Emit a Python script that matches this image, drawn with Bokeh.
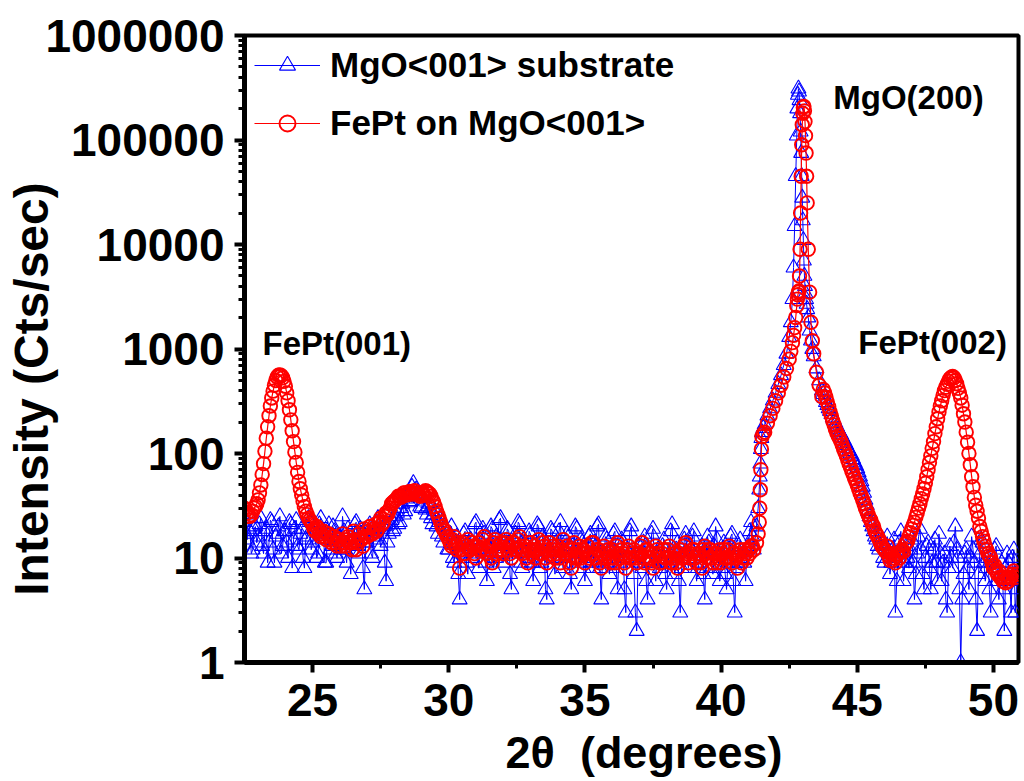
import numpy as np
from bokeh.plotting import figure
from bokeh.models import (Range1d, FixedTicker, PrintfTickFormatter, Label,
                          Legend, LegendItem, ColumnDataSource)
from bokeh.embed import file_html
from bokeh.resources import INLINE

# ---------------- data ----------------
# scan grid: 0.05 deg step below and above the MgO(200) peak, finer around it
two_theta_low = np.round(np.linspace(22.5, 41.15, 374), 2)
two_theta_peak = [41.2, 41.3, 41.36, 41.40, 41.42, 41.44, 41.46, 41.48, 41.5, 41.55,
                  41.6, 41.7, 41.8, 41.9, 42.0, 42.1, 42.2, 42.3, 42.4, 42.5,
                  42.56, 42.62, 42.66, 42.7, 42.74, 42.78, 42.8, 42.82, 42.84, 42.86,
                  42.88, 42.9, 42.92, 42.94, 42.96, 42.98, 43.0, 43.02, 43.04, 43.06,
                  43.08, 43.1, 43.12, 43.14, 43.16, 43.2, 43.25, 43.3, 43.35, 43.4,
                  43.5, 43.6, 43.7]
two_theta_high = np.round(np.linspace(43.75, 50.9, 144), 2)

# MgO<001> substrate (blue), counts/s
substrate_low = [22, 17, 15, 26, 18, 11, 12, 19, 20, 14,
                 16, 21, 24, 13, 11, 18, 19, 9, 14, 23, 22, 12, 9, 16, 17, 20, 25, 11, 13, 18,
                 18, 14, 10, 22, 21, 8, 15, 19, 23, 13, 12, 17, 19, 10, 8, 15, 16, 24, 22, 12,
                 14, 19, 20, 10, 11, 21, 24, 15, 17, 9, 9, 18, 21, 12, 13, 20, 18, 11, 10, 16,
                 16, 12, 25, 18, 12, 9, 19, 14, 7, 16, 15, 21, 22, 13, 11, 19, 17, 8, 5, 14,
                 14, 18, 21, 11, 10, 16, 18, 22, 24, 15, 13, 19, 20, 9, 6, 14, 17, 21, 23, 18,
                 19, 25, 27, 21, 22, 30, 33, 26, 28, 37, 40, 34, 35, 48, 52, 44, 45, 39, 38, 31,
                 30, 38, 42, 29, 26, 31, 33, 24, 21, 26, 28, 20, 17, 22, 24, 16, 14, 20, 19, 12,
                 12, 17, 20, 10, 9, 14, 16, 7, 4, 11, 13, 17, 18, 9, 7, 13, 15, 10, 11, 21,
                 22, 12, 8, 15, 14, 19, 17, 9, 6, 13, 12, 20, 19, 8, 10, 16, 15, 23, 24, 11,
                 9, 14, 13, 19, 18, 7, 5, 12, 11, 17, 16, 22, 21, 9, 8, 15, 14, 11, 10, 18,
                 17, 9, 6, 13, 12, 21, 20, 8, 9, 16, 15, 5, 4, 12, 11, 19, 18, 10, 7, 14,
                 13, 18, 22, 10, 8, 12, 10, 17, 16, 7, 5, 13, 12, 20, 19, 11, 9, 15, 14, 8,
                 6, 10, 11, 16, 17, 9, 8, 14, 13, 20, 21, 8, 4, 11, 10, 16, 15, 9, 7, 12,
                 12, 17, 18, 8, 5, 10, 9, 15, 14, 5, 3, 12, 11, 18, 20, 10, 7, 3, 2, 9,
                 13, 11, 8, 14, 16, 6, 4, 9, 10, 17, 19, 9, 6, 11, 12, 8, 9, 13, 15, 7,
                 5, 9, 11, 18, 21, 10, 7, 12, 14, 6, 3, 8, 10, 15, 17, 11, 8, 13, 12, 16,
                 18, 10, 6, 8, 9, 12, 13, 7, 4, 11, 16, 14, 11, 8, 7, 13, 20, 15, 10, 6,
                 8, 12, 14, 7, 5, 9, 12, 16, 17, 6, 3, 8, 9, 13, 15, 10, 11, 9, 6, 12,
                 13, 18, 22, 16]
substrate_peak = [12, 20, 30, 45, 60, 80, 110, 140, 160, 175,
                  190, 230, 270, 320, 380, 460, 560, 700, 900, 1300,
                  1800, 3000, 6000, 15000, 45000, 110000, 200000, 270000, 310000, 290000,
                  240000, 180000, 120000, 75000, 45000, 28000, 17000, 11000, 7000, 5000,
                  4000, 3400, 3000, 2700, 2400, 2000, 1500, 1200, 1000, 850,
                  650, 500, 400]
substrate_high = [370, 340, 310, 290, 270,
                  255, 238, 220, 207, 195, 182, 170, 160, 152, 143, 135, 127, 120, 112, 105, 100, 95, 88, 82, 77,
                  72, 66, 60, 54, 48, 42, 36, 32, 28, 25, 22, 20, 18, 16, 15, 13, 12, 16, 14, 10,
                  9, 13, 16, 11, 7, 9, 12, 15, 3, 6, 10, 14, 18, 11, 6, 9, 13, 10, 8, 12,
                  15, 9, 4, 7, 11, 16, 19, 12, 7, 5, 10, 13, 14, 8, 5, 9, 12, 15, 9, 6,
                  17, 11, 6, 9, 11, 4, 3, 8, 13, 10, 8, 14, 20, 12, 10, 5, 1, 4, 7, 11,
                  12, 8, 5, 10, 16, 12, 9, 4, 2, 7, 11, 15, 14, 9, 6, 8, 10, 5, 3, 9,
                  8, 12, 13, 6, 4, 7, 9, 5, 2, 8, 11, 9, 6, 3, 10, 12, 3, 5, 7]

# FePt on MgO<001> (red), counts/s
film_low = [30, 29, 27, 25, 25, 26, 28, 30, 31, 33,
            36, 42, 50, 63, 80, 105, 140, 180, 230, 285, 340, 395, 450, 500, 540, 560, 565, 555, 530, 490,
            440, 380, 320, 262, 210, 165, 130, 103, 82, 66, 54, 46, 40, 35, 31, 28, 26, 24, 23, 22,
            21, 19, 18, 20, 19, 17, 16, 17, 18, 16, 15, 17, 17, 15, 14, 16, 16, 14, 13, 15,
            15, 13, 17, 14, 13, 15, 16, 14, 14, 12, 18, 15, 12, 14, 17, 15, 15, 13, 19, 16,
            16, 18, 20, 17, 17, 19, 21, 18, 19, 22, 24, 21, 22, 25, 27, 26, 28, 30, 33, 34,
            35, 36, 37, 39, 39, 38, 40, 42, 42, 40, 41, 43, 43, 41, 42, 44, 41, 42, 40, 39,
            41, 42, 40, 44, 43, 42, 41, 39, 36, 34, 31, 28, 26, 24, 22, 20, 19, 18, 17, 16,
            15, 14, 13, 15, 16, 13, 12, 14, 8, 12, 14, 11, 11, 13, 15, 12, 12, 14, 13, 11,
            10, 13, 14, 12, 12, 15, 16, 12, 11, 13, 13, 10, 9, 14, 15, 11, 12, 13, 14, 12,
            11, 14, 15, 12, 13, 11, 10, 14, 14, 12, 12, 15, 16, 13, 11, 12, 13, 10, 9, 12,
            14, 11, 12, 13, 10, 12, 15, 11, 11, 14, 13, 10, 9, 12, 14, 11, 12, 13, 10, 11,
            13, 10, 9, 12, 15, 11, 11, 13, 12, 9, 8, 12, 14, 10, 10, 12, 13, 10, 11, 12,
            9, 11, 13, 10, 11, 14, 14, 11, 10, 12, 12, 9, 8, 11, 13, 10, 11, 12, 10, 9,
            12, 10, 9, 13, 14, 11, 10, 12, 11, 9, 8, 12, 13, 10, 10, 11, 12, 10, 9, 11,
            11, 13, 14, 10, 9, 12, 12, 10, 10, 9, 8, 11, 13, 12, 11, 9, 9, 11, 12, 10,
            10, 12, 13, 9, 9, 10, 11, 9, 8, 11, 12, 10, 10, 13, 14, 11, 9, 10, 11, 12,
            12, 10, 9, 11, 11, 9, 8, 12, 13, 11, 10, 12, 12, 10, 9, 11, 11, 9, 10, 12,
            9, 11, 12, 10, 10, 12, 13, 10, 9, 11, 11, 10, 8, 11, 12, 9, 10, 12, 11, 10,
            12, 11, 13, 13]
film_peak = [12, 14, 17, 22, 30, 45, 70, 110, 145, 155,
             160, 195, 230, 270, 320, 380, 450, 540, 650, 800,
             950, 1150, 1350, 1600, 2000, 2600, 3000, 3300, 3500, 3600,
             5000, 9000, 20000, 45000, 90000, 140000, 180000, 205000, 210000, 190000,
             150000, 110000, 75000, 45000, 25000, 9000, 3500, 1800, 1200, 900,
             600, 450, 350]
film_high = [410, 380, 345, 310, 280,
             250, 228, 205, 188, 170, 158, 148, 139, 130, 120, 110, 102, 95, 87, 80, 74, 68, 63, 58, 54,
             50, 46, 42, 39, 36, 33, 30, 28, 26, 24, 23, 21, 20, 18, 17, 16, 15, 14, 13, 12.5,
             12, 11.5, 13, 10.5, 9.5, 11, 9.5, 10, 9, 10.5, 11, 10, 11.5, 12, 11.5, 13.5, 14, 14.5, 16, 17.5,
             19, 20.5, 22, 24.5, 27, 30, 33, 37, 41, 46, 52, 60, 70, 82, 95, 112, 130, 155, 180, 215,
             250, 285, 320, 360, 400, 430, 460, 490, 520, 535, 545, 530, 500, 465, 420, 380, 340, 290, 240, 200,
             160, 128, 100, 78, 60, 48, 38, 32, 28, 24, 20, 18, 16, 14.5, 13, 12, 11, 10.5, 10, 9,
             8, 8.5, 7.5, 7, 7.5, 6.5, 6.5, 6, 6.5, 5.8, 6.5, 6, 6.5, 6.5, 7, 7.5, 6.5, 7, 7]

series_names = ["MgO<001> substrate", "FePt on MgO<001>"]
peak_labels = ["FePt(001)", "MgO(200)", "FePt(002)"]
x_title = "\u00a0\u00a02θ\u00a0\u00a0(degrees)"
y_title = "Intensity (Cts/sec)" + "\u00a0" * 6
x_major_ticks = [25, 30, 35, 40, 45, 50]
x_minor_ticks = [27.5, 32.5, 37.5, 42.5, 47.5]
y_major_ticks = [1, 10, 100, 1000, 10000, 100000, 1000000]
y_minor_ticks = [m * 10 ** e for e in range(0, 6) for m in range(2, 10)]

two_theta = list(two_theta_low) + two_theta_peak + list(two_theta_high)
substrate = substrate_low + substrate_peak + substrate_high
film = film_low + film_peak + film_high

# ---------------- figure ----------------
FONT = "Liberation Sans"
p = figure(width=1024, height=781,
           x_range=Range1d(22.5, 50.92), y_range=Range1d(1, 1e6),
           y_axis_type="log", output_backend="svg", toolbar_location=None,
           min_border_left=244, min_border_right=6, min_border_top=35,
           min_border_bottom=119)
p.xgrid.visible = False
p.ygrid.visible = False
p.outline_line_color = "black"
p.outline_line_width = 4
p.background_fill_color = "white"
p.border_fill_color = "white"

src_b = ColumnDataSource(dict(x=two_theta, y=substrate))
src_r = ColumnDataSource(dict(x=two_theta, y=film))

BLUE = "#0000FF"
RED = "#FF0000"
lb = p.line("x", "y", source=src_b, line_color=BLUE, line_width=1)
sb = p.scatter("x", "y", source=src_b, marker="triangle", size=15,
               line_color=BLUE, fill_color=None, line_width=1.1)
lr = p.line("x", "y", source=src_r, line_color=RED, line_width=1.2)
sr = p.scatter("x", "y", source=src_r, marker="circle", size=13.5,
               line_color=RED, fill_color=None, line_width=1.9)

legend = Legend(items=[LegendItem(label=series_names[0], renderers=[lb, sb]),
                       LegendItem(label=series_names[1], renderers=[lr, sr])],
                location="top_left", margin=10, padding=0, spacing=18,
                glyph_width=66, glyph_height=40, label_height=40,
                label_standoff=10,
                label_text_font=FONT, label_text_font_style="bold",
                label_text_font_size="35px", label_text_color="black",
                border_line_alpha=0, background_fill_alpha=0)
p.add_layout(legend)

# axes
for ax in (p.xaxis[0], p.yaxis[0]):
    ax.axis_line_width = 5
    ax.axis_line_color = "black"
    ax.major_tick_line_width = 4
    ax.minor_tick_line_width = 3
    ax.major_tick_in = 0
    ax.major_tick_out = 10
    ax.minor_tick_in = 0
    ax.minor_tick_out = 6
    ax.major_label_text_font = FONT
    ax.major_label_text_font_style = "bold"
    ax.major_label_text_font_size = "46px"
    ax.major_label_text_color = "black"
    ax.axis_label_text_font = FONT
    ax.axis_label_text_font_style = "bold"
    ax.axis_label_text_color = "black"
p.xaxis.ticker = FixedTicker(ticks=x_major_ticks, minor_ticks=x_minor_ticks)
p.yaxis.ticker = FixedTicker(ticks=y_major_ticks, minor_ticks=y_minor_ticks)
p.yaxis.formatter = PrintfTickFormatter(format="%d")
p.xaxis.major_label_standoff = 11
p.yaxis.major_label_standoff = 10

p.xaxis.axis_label = x_title
p.xaxis.axis_label_text_font_size = "45px"
p.xaxis.axis_label_standoff = 8
p.yaxis.axis_label = y_title
p.yaxis.axis_label_text_font_size = "48px"
p.yaxis.axis_label_standoff = -16

# peak annotations
for txt, xx, yy in zip(peak_labels, [23.16, 44.12, 45.04], [1130, 255000, 1150]):
    p.add_layout(Label(x=xx, y=yy, text=txt, text_align="left",
                       text_baseline="alphabetic", text_font=FONT,
                       text_font_style="bold", text_font_size="33px",
                       text_color="black"))

open("out.html", "w").write(file_html(p, INLINE))
